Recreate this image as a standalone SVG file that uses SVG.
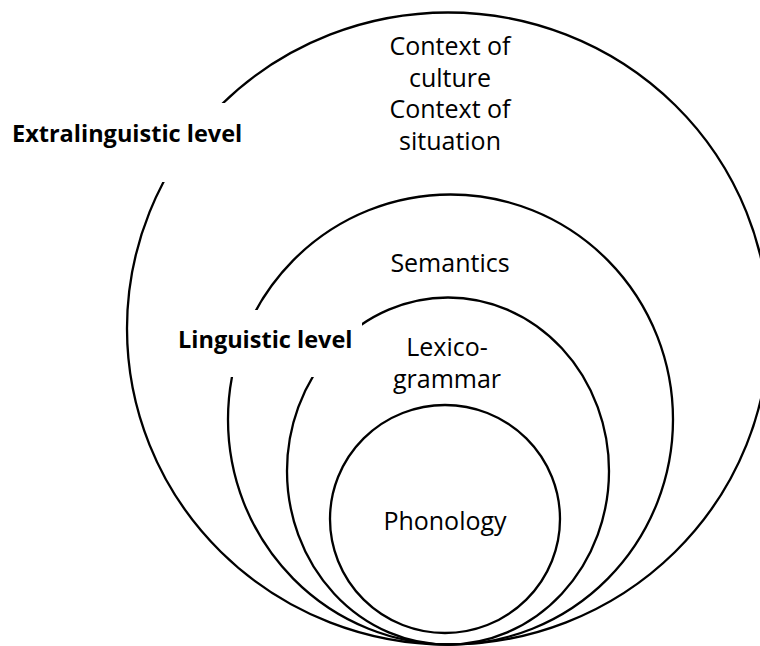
<svg xmlns="http://www.w3.org/2000/svg" width="760" height="646" viewBox="0 0 760 646">
<style>
.ring{fill:none;stroke:#000;stroke-width:2.3}
.lbl{font-family:"Open Sans","Liberation Sans",sans-serif;font-size:25px;fill:#000;text-anchor:middle}
.lvl{font-family:"Open Sans","Liberation Sans",sans-serif;font-size:23.5px;font-weight:bold;fill:#000}
.mask{fill:#fff;stroke:none}
</style>
<rect width="760" height="646" fill="#fff"/>
<g id="connectors"></g>
<g id="context">
<ellipse class="ring" cx="448" cy="328.5" rx="321" ry="316"/>
<text class="lbl" x="450"><tspan x="450" y="55">Context of</tspan><tspan x="450" y="87">culture</tspan><tspan x="450" y="118">Context of</tspan><tspan x="450" y="150">situation</tspan></text>
</g>
<g id="semantics">
<ellipse class="ring" cx="450.5" cy="419.5" rx="222.5" ry="225"/>
<text class="lbl" x="450" y="272">Semantics</text>
</g>
<g id="lexicogrammar">
<ellipse class="ring" cx="448" cy="471" rx="161" ry="173.5"/>
<text class="lbl" x="447"><tspan x="447" y="356">Lexico-</tspan><tspan x="447" y="388">grammar</tspan></text>
</g>
<g id="phonology">
<ellipse class="ring" cx="445" cy="519" rx="115" ry="114"/>
<text class="lbl" x="445" y="530">Phonology</text>
</g>
<g id="extralinguistic-level">
<rect class="mask" x="0" y="103" width="252" height="79"/>
<text class="lvl" x="12" y="142">Extralinguistic level</text>
</g>
<g id="linguistic-level">
<rect class="mask" x="170" y="310" width="192" height="67"/>
<text class="lvl" x="178" y="348">Linguistic level</text>
</g>
</svg>
